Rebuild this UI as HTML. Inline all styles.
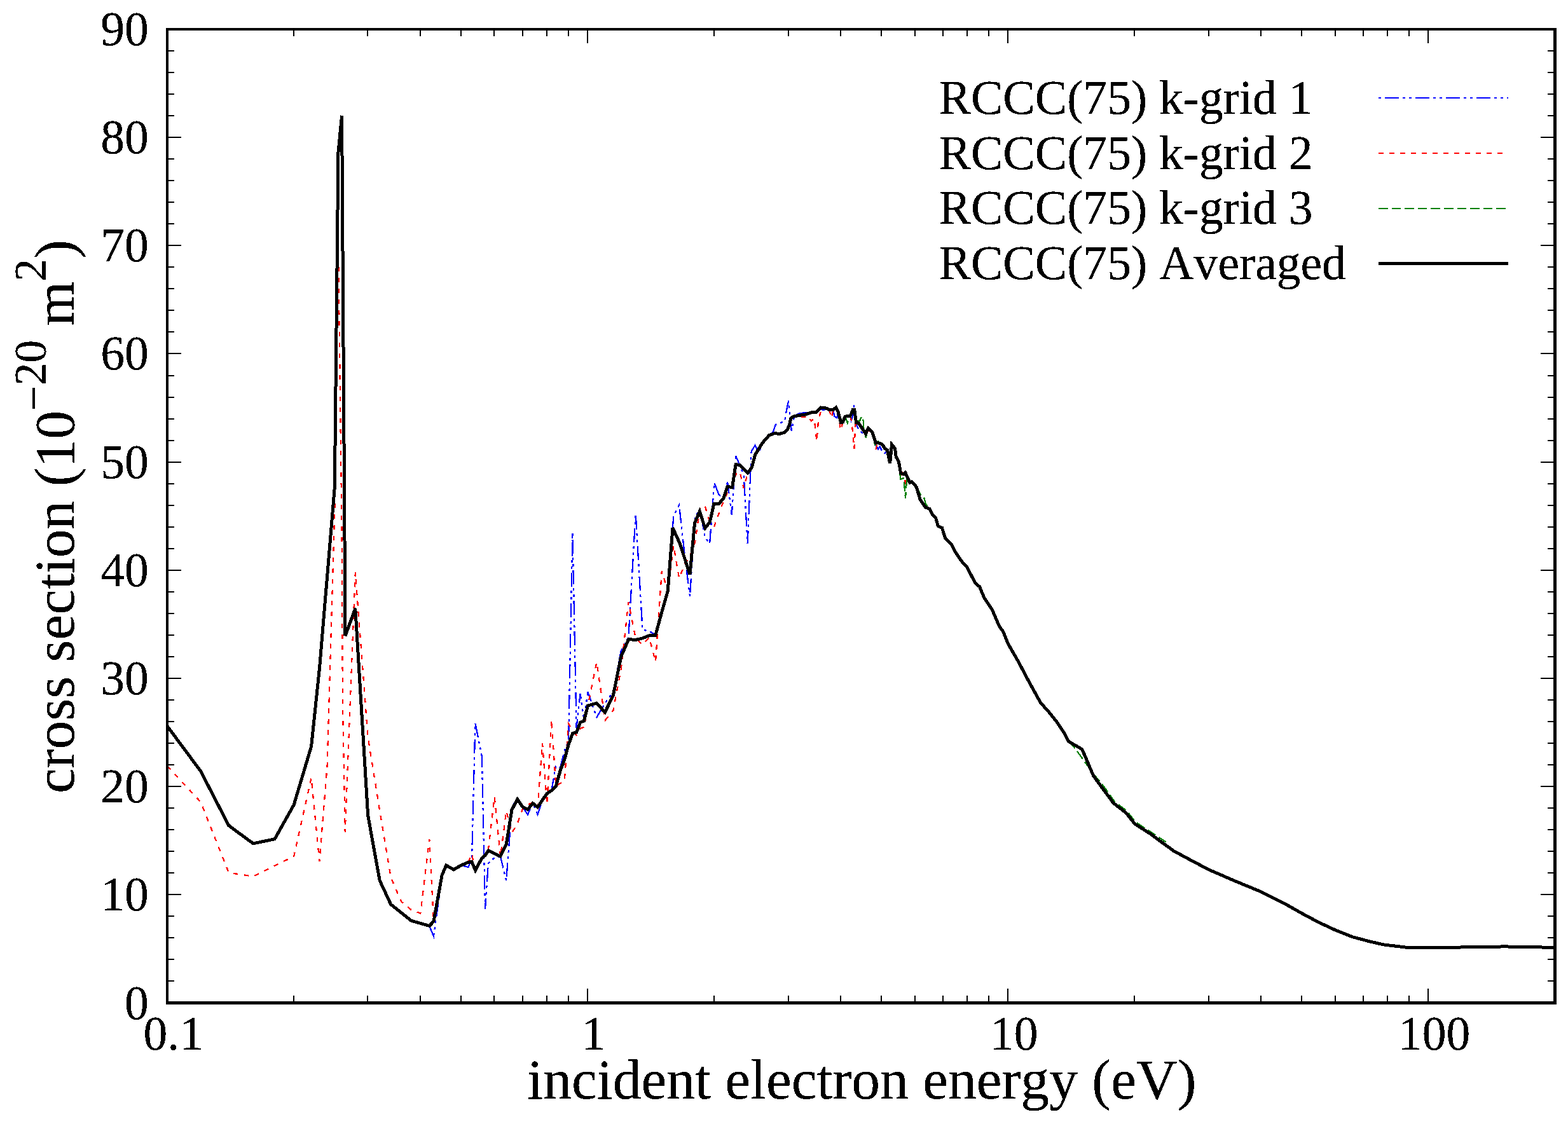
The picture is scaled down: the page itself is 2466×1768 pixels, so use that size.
<!DOCTYPE html><html><head><meta charset="utf-8"><title>cross section</title>
<style>html,body{margin:0;padding:0;background:#fff}svg{display:block}text{font-family:"Liberation Serif",serif;fill:#000;font-kerning:none;font-variant-ligatures:none;white-space:pre}</style></head><body>
<svg width="2466" height="1768" viewBox="0 0 2466 1768">
<rect x="0" y="0" width="2466" height="1768" fill="#fff"/>
<g fill="none" stroke-linejoin="miter" stroke-linecap="butt" shape-rendering="crispEdges">
<path d="M675.3 1456.7L682.0 1472.6L688.6 1425.0L695.1 1380.0L701.4 1358.0M725.3 1361.0L736.6 1364.0L742.1 1349.0L747.4 1137.5L757.9 1190.0L763.0 1430.0L767.9 1358.0L777.7 1349.0L787.1 1347.7L796.2 1384.8L805.0 1270.0L813.6 1255.5L821.9 1269.1L830.0 1281.5L837.9 1262.8L845.6 1281.5L853.0 1259.0L860.3 1248.0L867.4 1243.4L874.3 1204.3L881.1 1207.0L887.7 1180.5L894.1 1165.0L900.4 837.8L906.6 1145.0L912.6 1091.2L918.6 1133.0L924.4 1088.0L938.4 1128.3L951.7 1105.8L964.5 1088.0L976.7 1023.7L988.4 1002.6L999.7 808.2L1010.5 990.7L1021.0 992.6L1031.0 999.0M1050.2 929.8L1059.3 811.7L1068.1 794.5L1076.7 872.5L1085.0 937.8L1093.1 813.0L1101.0 801.0L1108.7 844.8L1116.1 855.3L1123.4 759.4L1130.5 778.0L1137.4 782.6L1144.2 758.5L1150.8 809.7L1157.2 717.1L1163.5 731.7L1169.7 746.9L1175.7 855.3L1181.7 709.8L1187.5 700.6L1193.1 711.0L1198.7 700.0L1209.6 684.6M1209.6 684.6L1215.7 679.9L1219.7 668.0L1227.0 665.4L1234.2 662.1L1235.6 652.2L1240.2 630.3L1244.8 678.0L1249.2 654.2L1255.4 650.8L1266.0 648.9L1272.6 649.5M1291.1 640.9L1292.4 644.2L1296.4 644.9L1300.0 642.2M1310.3 644.9L1312.3 654.8L1316.2 657.5L1318.2 648.2M1337.4 654.8L1338.7 661.4L1340.7 656.1L1343.4 637.0L1347.3 669.4L1352.0 677.3L1359.2 684.6L1361.9 684.6M1377.1 697.1L1378.4 702.4L1381.1 706.4L1383.7 702.4L1387.7 710.4L1391.6 713.0L1395.6 707.7" stroke="#0000ff" stroke-width="2.3" stroke-dasharray="22 6 4 6 4 6"/>
<path d="M263.2 1205.0L315.6 1261.5L359.8 1372.7L398.2 1378.6L432.0 1361.6L462.2 1347.1L489.6 1223.6L502.4 1355.0L514.6 1205.0L526.3 805.0L532.0 380.0L537.5 830.0L538.9 1100.0L542.7 1309.0L558.8 900.4L578.7 1160.0L597.2 1275.0L614.6 1380.0L631.0 1418.0L646.5 1431.0L661.3 1436.6L675.3 1320.0L682.0 1449.4M736.6 1356.3L742.1 1343.0L747.4 1371.5M767.9 1337.1L777.7 1253.5L787.1 1347.7L796.2 1275.6L805.0 1310.0L813.6 1295.5L821.9 1272.3L830.0 1265.5L837.9 1262.8L845.6 1270.4L853.0 1168.6L860.3 1265.0L867.4 1131.6L874.3 1236.7L881.1 1232.0L887.7 1229.5L894.1 1138.2L900.4 1150.0L906.6 1156.0L912.6 1146.0L918.6 1143.5L924.4 1110.4L938.4 1041.6L951.7 1133.0L964.5 1117.0L976.7 1052.8L988.4 947.0L999.7 1004.0L1010.5 1014.2L1021.0 1002.6L1031.0 1041.0L1040.8 898.0L1050.2 929.8L1059.3 858.0L1068.1 909.6L1076.7 888.0L1085.0 875.2L1093.1 852.7L1101.0 798.5L1108.7 795.8L1116.1 821.0L1123.4 827.6L1130.5 808.0L1137.4 790.0L1144.2 774.0L1150.8 766.7L1157.2 746.0L1163.5 742.0L1169.7 768.0L1175.7 744.9M1243.8 657.5L1248.8 655.5L1253.4 656.8L1266.0 655.5L1269.9 653.5L1275.8 662.1L1280.5 658.8L1284.5 694.5L1287.1 660.1L1292.2 642.9M1304.3 644.9L1307.6 657.5L1310.3 644.9M1318.2 648.2L1322.2 676.6L1325.5 664.1M1337.4 654.8L1339.4 662.8L1343.4 705.7L1345.3 669.4L1346.0 665.4M1365.2 671.3L1367.8 682.6L1371.8 679.9M1375.1 693.2L1377.1 708.4L1380.4 694.5M1416.8 747.4L1418.8 743.4L1422.1 747.4L1424.7 767.2L1426.0 750.1" stroke="#ff0000" stroke-width="2.3" stroke-dasharray="7.5 9.5"/>
<path d="M1328.8 654.8L1330.8 658.8L1332.8 665.4L1334.1 660.8L1337.4 654.8M1346.0 665.4L1348.7 662.1L1352.0 662.1L1355.3 654.8L1357.9 662.8L1357.9 670.7L1361.9 688.5L1365.2 671.3M1375.1 695.8L1376.4 699.8L1381.1 694.5L1383.7 697.1M1413.9 724.9L1416.1 754.0L1421.4 752.0L1424.0 783.8L1426.0 755.3L1430.7 760.6M1441.2 765.9L1447.9 777.8L1453.8 784.4L1455.8 792.4L1461.7 800.3M1680.6 1166.2L1691.2 1177.7L1711.5 1205.9L1719.5 1220.1M1720.0 1217.8L1736.0 1237.0L1752.8 1260.8L1772.2 1275.8L1786.4 1293.5L1811.1 1309.4L1834.0 1324.6" stroke="#008000" stroke-width="2.3" stroke-dasharray="14.6 6"/>
<path d="M263.2 1142.4L315.6 1213.0L359.8 1298.6L398.2 1326.8L432.0 1319.8L462.2 1265.9L489.6 1174.1L502.4 1052.0L526.3 767.0L532.0 239.5L537.6 181.7L543.0 1000.1L558.8 956.9L578.7 1283.0L597.2 1385.0L614.6 1422.4L646.5 1448.1L675.2 1456.4L682.0 1449.4L695.1 1376.8L701.7 1361.1L713.6 1367.9L725.3 1361.0L736.6 1356.3L741.8 1355.5L747.6 1369.0L757.9 1349.7L763.0 1345.7L768.1 1337.7L786.9 1347.0L796.2 1328.5L805.0 1273.7L813.7 1257.2L821.9 1269.1L829.9 1273.3L838.0 1263.6L845.5 1269.5L860.3 1248.0L867.4 1243.4L874.3 1236.7L881.1 1212.3L887.7 1195.1L894.1 1171.3L900.6 1153.6L906.5 1151.9L912.7 1136.3L918.4 1134.1L924.5 1110.0L938.3 1106.1L951.5 1120.4L964.5 1093.2L976.7 1033.0L988.6 1005.5L999.7 1006.5L1010.5 1003.9L1021.0 999.7L1030.8 999.4L1040.8 962.9L1050.2 929.8L1058.0 830.2L1068.8 854.0L1085.0 903.4L1092.6 822.3L1100.3 804.6L1108.9 830.7L1116.4 821.0L1122.7 792.8L1130.3 792.5L1137.6 784.6L1143.8 765.8L1151.7 766.2L1157.1 730.4L1163.4 731.7L1175.8 744.0L1182.5 735.0L1187.4 715.8L1198.7 697.2L1209.6 684.6L1219.0 681.3L1225.0 682.6L1234.2 680.2L1238.2 676.0L1241.5 668.0L1243.9 657.6L1249.2 654.8L1258.3 653.2L1267.2 651.9L1275.8 648.9L1284.1 648.2L1291.2 641.1L1300.0 642.2L1304.3 644.9L1310.3 644.9L1314.7 641.0L1318.2 648.2L1322.6 664.7L1325.5 664.1L1329.0 655.1L1337.2 654.5L1341.4 644.4L1343.7 644.4L1346.6 664.9L1350.5 665.6L1361.5 682.1L1365.6 673.3L1371.8 679.9L1377.3 696.8L1383.7 697.1L1388.3 699.8L1391.6 705.7L1395.5 707.8L1399.6 728.9L1402.5 699.2L1407.5 705.3L1409.2 718.4L1413.5 726.5L1416.5 743.9L1420.9 745.9L1423.8 743.5L1430.9 759.1L1434.0 757.6L1441.2 765.9L1447.2 785.8L1455.1 797.7L1461.7 800.3L1466.5 809.1L1471.8 815.3L1475.4 827.6L1481.5 830.3L1486.8 847.1L1496.5 856.8L1503.5 870.0L1513.3 884.1L1520.3 891.2L1533.6 916.8L1540.6 923.0L1547.7 939.8L1560.0 958.3L1571.5 984.8L1577.7 993.6L1585.6 1013.0L1601.2 1040.0L1618.0 1071.8L1636.5 1105.3L1650.6 1121.2L1661.2 1134.4L1673.6 1153.0L1680.6 1166.2L1701.8 1178.6L1710.6 1198.9L1719.5 1220.1L1733.6 1239.5L1751.2 1263.3L1770.6 1278.3L1784.8 1296.0L1809.5 1311.8L1822.9 1321.8L1845.9 1338.5L1870.6 1351.8L1900.6 1367.7L1941.2 1385.3L1981.8 1402.1L2020.7 1421.5L2047.1 1436.5L2073.6 1450.6L2100.1 1463.0L2126.6 1473.6L2153.0 1480.6L2176.0 1485.9L2216.0 1490.7L2242.5 1490.7L2313.1 1489.8L2366.1 1488.9L2419.0 1489.8L2444.6 1490.7" stroke="#000" stroke-width="5" stroke-linejoin="miter"/>
</g>
<path d="M263 1543h11M2445 1543h-11M263 1509h11M2445 1509h-11M263 1475h11M2445 1475h-11M263 1441h11M2445 1441h-11M263 1407h22M2445 1407h-22M263 1373h11M2445 1373h-11M263 1339h11M2445 1339h-11M263 1305h11M2445 1305h-11M263 1271h11M2445 1271h-11M263 1237h22M2445 1237h-22M263 1203h11M2445 1203h-11M263 1169h11M2445 1169h-11M263 1135h11M2445 1135h-11M263 1101h11M2445 1101h-11M263 1067h22M2445 1067h-22M263 1033h11M2445 1033h-11M263 999h11M2445 999h-11M263 965h11M2445 965h-11M263 931h11M2445 931h-11M263 897h22M2445 897h-22M263 863h11M2445 863h-11M263 829h11M2445 829h-11M263 795h11M2445 795h-11M263 761h11M2445 761h-11M263 727h22M2445 727h-22M263 693h11M2445 693h-11M263 659h11M2445 659h-11M263 625h11M2445 625h-11M263 591h11M2445 591h-11M263 556h22M2445 556h-22M263 522h11M2445 522h-11M263 488h11M2445 488h-11M263 454h11M2445 454h-11M263 420h11M2445 420h-11M263 386h22M2445 386h-22M263 352h11M2445 352h-11M263 318h11M2445 318h-11M263 284h11M2445 284h-11M263 250h11M2445 250h-11M263 216h22M2445 216h-22M263 182h11M2445 182h-11M263 148h11M2445 148h-11M263 114h11M2445 114h-11M263 80h11M2445 80h-11M462 1577v-11M462 46v11M578 1577v-11M578 46v11M661 1577v-11M661 46v11M725 1577v-11M725 46v11M777 1577v-11M777 46v11M822 1577v-11M822 46v11M860 1577v-11M860 46v11M894 1577v-11M894 46v11M924 1577v-22M924 46v22M1123 1577v-11M1123 46v11M1240 1577v-11M1240 46v11M1322 1577v-11M1322 46v11M1386 1577v-11M1386 46v11M1439 1577v-11M1439 46v11M1483 1577v-11M1483 46v11M1521 1577v-11M1521 46v11M1555 1577v-11M1555 46v11M1585 1577v-22M1585 46v22M1784 1577v-11M1784 46v11M1901 1577v-11M1901 46v11M1983 1577v-11M1983 46v11M2047 1577v-11M2047 46v11M2100 1577v-11M2100 46v11M2144 1577v-11M2144 46v11M2182 1577v-11M2182 46v11M2216 1577v-11M2216 46v11M2246 1577v-22M2246 46v22" stroke="#000" stroke-width="2" fill="none" shape-rendering="crispEdges"/>
<path d="M261 44H2448V1580H261ZM265 48V1575H2443V48Z" fill="#000" fill-rule="evenodd" shape-rendering="crispEdges"/>
<defs><filter id="crisp" x="-5%" y="-5%" width="110%" height="110%" color-interpolation-filters="sRGB"><feComponentTransfer><feFuncA type="discrete" tableValues="0 1 1"/></feComponentTransfer></filter></defs>
<g filter="url(#crisp)">
<text x="233.9" y="1603.1" font-size="75.6" text-anchor="end">0</text>
<text x="233.9" y="1432.1" font-size="75.6" text-anchor="end">10</text>
<text x="233.9" y="1262.1" font-size="75.6" text-anchor="end">20</text>
<text x="233.9" y="1092.1" font-size="75.6" text-anchor="end">30</text>
<text x="233.9" y="922.1" font-size="75.6" text-anchor="end">40</text>
<text x="233.9" y="752.1" font-size="75.6" text-anchor="end">50</text>
<text x="233.9" y="581.1" font-size="75.6" text-anchor="end">60</text>
<text x="233.9" y="411.1" font-size="75.6" text-anchor="end">70</text>
<text x="233.9" y="241.1" font-size="75.6" text-anchor="end">80</text>
<text x="233.9" y="71.1" font-size="75.6" text-anchor="end">90</text>
<text x="272.7" y="1650.6" font-size="75.6" text-anchor="middle">0.1</text>
<text x="933.7" y="1650.6" font-size="75.6" text-anchor="middle">1</text>
<text x="1594.7" y="1650.6" font-size="75.6" text-anchor="middle">10</text>
<text x="2255.7" y="1650.6" font-size="75.6" text-anchor="middle">100</text>
<text x="829.3" y="1727.8" font-size="89.6">incident electron energy (eV)</text>
<text transform="translate(116,1247.9) rotate(-90)" font-size="89.6">cross section (10<tspan dy="-39.3" dx="-0.8" font-size="71.7">−</tspan><tspan dy="-4.7" dx="-0.3" font-size="71.7">20</tspan><tspan dy="44"> m</tspan><tspan dy="-44" font-size="71.7">2</tspan><tspan dy="44">)</tspan></text>
<text x="1476.5" y="178.9" font-size="75.6">RCCC(75) k-grid 1</text>
<text x="1476.5" y="265.7" font-size="75.6">RCCC(75) k-grid 2</text>
<text x="1476.5" y="352.4" font-size="75.6">RCCC(75) k-grid 3</text>
<text x="1476.5" y="439.2" font-size="75.6">RCCC(75) Averaged</text>
</g>
<g fill="none" shape-rendering="crispEdges">
<path d="M2168 154H2372" stroke="#0000ff" stroke-width="2" stroke-dasharray="22 6 4 6 4 6" stroke-dashoffset="38"/>
<path d="M2168 241H2365" stroke="#ff0000" stroke-width="2" stroke-dasharray="7.5 9.5"/>
<path d="M2168 328H2368" stroke="#008000" stroke-width="2" stroke-dasharray="14.6 6"/>
<path d="M2168 414.5H2372" stroke="#000" stroke-width="5"/>
</g>
</svg></body></html>
